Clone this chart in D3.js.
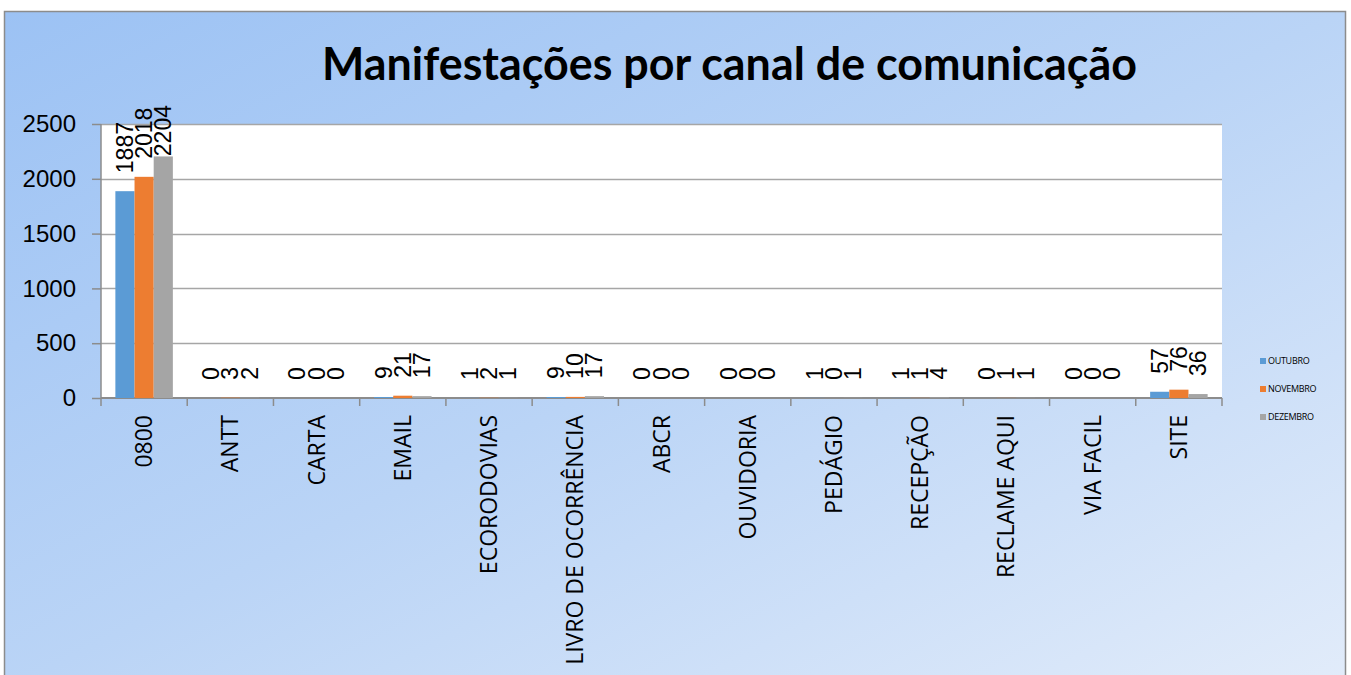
<!DOCTYPE html>
<html>
<head>
<meta charset="utf-8">
<script src="https://cdn.jsdelivr.net/npm/d3@7"></script>
<style>
  body { margin: 0; background: #fff; }
  svg { display: block; }
</style>
</head>
<body>
<svg width="1351" height="675"></svg>
<script>
// Manifestações por canal de comunicação

const categories = ['0800', 'ANTT', 'CARTA', 'EMAIL', 'ECORODOVIAS', 'LIVRO DE OCORRÊNCIA', 'ABCR',
    'OUVIDORIA', 'PEDÁGIO', 'RECEPÇÃO', 'RECLAME AQUI', 'VIA FACIL', 'SITE'];
const outubro  = [1887, 0, 0, 9, 1, 9, 0, 0, 1, 1, 0, 0, 57];
const novembro = [2018, 3, 0, 21, 2, 10, 0, 0, 0, 1, 1, 0, 76];
const dezembro = [2204, 2, 0, 17, 1, 17, 0, 0, 1, 4, 1, 0, 36];
const seriesNames = ['OUTUBRO', 'NOVEMBRO', 'DEZEMBRO'];
const seriesColors = ['#5b9bd5', '#ed7d31', '#a5a5a5'];
const yTicks = [0, 500, 1000, 1500, 2000, 2500];

const series = [outubro, novembro, dezembro].map((values, i) => ({
    name: seriesNames[i],
    color: seriesColors[i],
    values
}));

const svg = d3.select('svg');
const plot = { left: 101, right: 1222, top: 124, bottom: 398 };

// Background frame with gradient
const defs = svg.append('defs');
const grad = defs.append('linearGradient')
    .attr('id', 'bg')
    .attr('x1', '0%').attr('y1', '0%')
    .attr('x2', '100%').attr('y2', '100%');
grad.append('stop').attr('offset', '0%').attr('stop-color', '#9cc2f4');
grad.append('stop').attr('offset', '50%').attr('stop-color', '#bad4f6');
grad.append('stop').attr('offset', '100%').attr('stop-color', '#e2ecfa');

svg.append('rect')
    .attr('x', 4.5).attr('y', 11.5)
    .attr('width', 1341).attr('height', 680)
    .attr('fill', 'url(#bg)')
    .attr('stroke', '#8c8c8c')
    .attr('stroke-width', 1.5);

// Title
svg.append('text')
    .attr('x', 322)
    .attr('y', 80)
    .attr('font-family', 'Lato, sans-serif')
    .attr('font-weight', 'bold')
    .attr('font-size', 45)
    .attr('textLength', 815)
    .attr('lengthAdjust', 'spacingAndGlyphs')
    .attr('fill', '#000')
    .text('Manifestações por canal de comunicação');

// Scales
const x0 = d3.scaleBand()
    .domain(categories)
    .range([plot.left, plot.right])
    .paddingInner(0)
    .paddingOuter(0);

const x1 = d3.scaleBand()
    .domain(seriesNames)
    .range([0, x0.bandwidth()])
    .paddingInner(0)
    .paddingOuter(0.75);

const y = d3.scaleLinear()
    .domain([0, 2500])
    .range([plot.bottom, plot.top]);

// Plot area
svg.append('rect')
    .attr('x', plot.left).attr('y', plot.top)
    .attr('width', plot.right - plot.left)
    .attr('height', plot.bottom - plot.top)
    .attr('fill', '#fff');

// Gridlines
svg.append('g')
    .selectAll('line')
    .data(yTicks.filter(d => d > 0))
    .join('line')
    .attr('x1', plot.left).attr('x2', plot.right)
    .attr('y1', d => Math.round(y(d)) + 0.5)
    .attr('y2', d => Math.round(y(d)) + 0.5)
    .attr('stroke', '#a6a6a6')
    .attr('stroke-width', 1.5);

// Y axis
const yAxis = d3.axisLeft(y)
    .tickValues(yTicks)
    .tickSize(9)
    .tickPadding(16)
    .tickFormat(d3.format('d'));

const gy = svg.append('g')
    .attr('transform', `translate(${plot.left},0)`)
    .call(yAxis);
gy.select('.domain').attr('stroke', '#8c8c8c').attr('stroke-width', 1.5)
    .attr('d', `M0,${plot.top}V${plot.bottom}`);
gy.selectAll('.tick line').attr('stroke', '#8c8c8c').attr('stroke-width', 1.5);
gy.selectAll('.tick text')
    .attr('font-family', '"Liberation Sans", Arial, sans-serif')
    .attr('font-size', 24)
    .attr('fill', '#000');

// X axis: ticks between categories
const boundaries = d3.range(categories.length + 1).map(i => plot.left + i * x0.step());
const gx = svg.append('g');
gx.append('line')
    .attr('x1', plot.left).attr('x2', plot.right)
    .attr('y1', plot.bottom).attr('y2', plot.bottom)
    .attr('stroke', '#8c8c8c').attr('stroke-width', 2);
gx.selectAll('.xtick')
    .data(boundaries)
    .join('line')
    .attr('class', 'xtick')
    .attr('x1', d => d).attr('x2', d => d)
    .attr('y1', plot.bottom).attr('y2', plot.bottom + 8)
    .attr('stroke', '#8c8c8c').attr('stroke-width', 1.5);

gx.selectAll('.xlabel')
    .data(categories)
    .join('text')
    .attr('class', 'xlabel')
    .attr('transform', d => `translate(${x0(d) + x0.bandwidth() / 2},${plot.bottom + 17}) rotate(-90)`)
    .attr('text-anchor', 'end')
    .attr('dy', '0.35em')
    .attr('font-family', '"Open Sans", sans-serif')
    .attr('font-size', 23)
    .attr('fill', '#000')
    .text(d => d);

// Bars
const groups = svg.append('g')
    .selectAll('g')
    .data(categories)
    .join('g')
    .attr('transform', d => `translate(${x0(d)},0)`);

groups.selectAll('rect')
    .data((d, i) => series.map(s => ({ name: s.name, color: s.color, value: s.values[i] })))
    .join('rect')
    .attr('x', d => x1(d.name))
    .attr('y', d => y(d.value))
    .attr('width', x1.bandwidth())
    .attr('height', d => plot.bottom - y(d.value))
    .attr('fill', d => d.color);

// Data labels, rotated, above each bar
const labelTopLimit = 105;
groups.selectAll('text')
    .data((d, i) => series.map(s => ({ name: s.name, value: s.values[i] })))
    .join('text')
    .attr('text-anchor', 'start')
    .attr('dy', '0.35em')
    .attr('font-family', '"Liberation Sans", Arial, sans-serif')
    .attr('font-size', 23)
    .attr('fill', '#000')
    .text(d => d.value)
    .attr('transform', function (d) {
        const len = this.getComputedTextLength();
        const start = Math.max(y(d.value) - 18, labelTopLimit + len);
        return `translate(${x1(d.name) + x1.bandwidth() / 2},${start}) rotate(-90)`;
    });

// Legend
const legend = svg.append('g')
    .selectAll('g')
    .data(series)
    .join('g')
    .attr('transform', (d, i) => `translate(1260,${361 + i * 28})`);

legend.append('rect')
    .attr('x', 0).attr('y', -3)
    .attr('width', 6).attr('height', 6)
    .attr('fill', d => d.color);

legend.append('text')
    .attr('x', 8)
    .attr('dy', '0.35em')
    .attr('font-family', '"Open Sans", sans-serif')
    .attr('font-size', 9)
    .attr('letter-spacing', -0.3)
    .attr('fill', '#000')
    .text(d => d.name);
</script>
</body>
</html>
